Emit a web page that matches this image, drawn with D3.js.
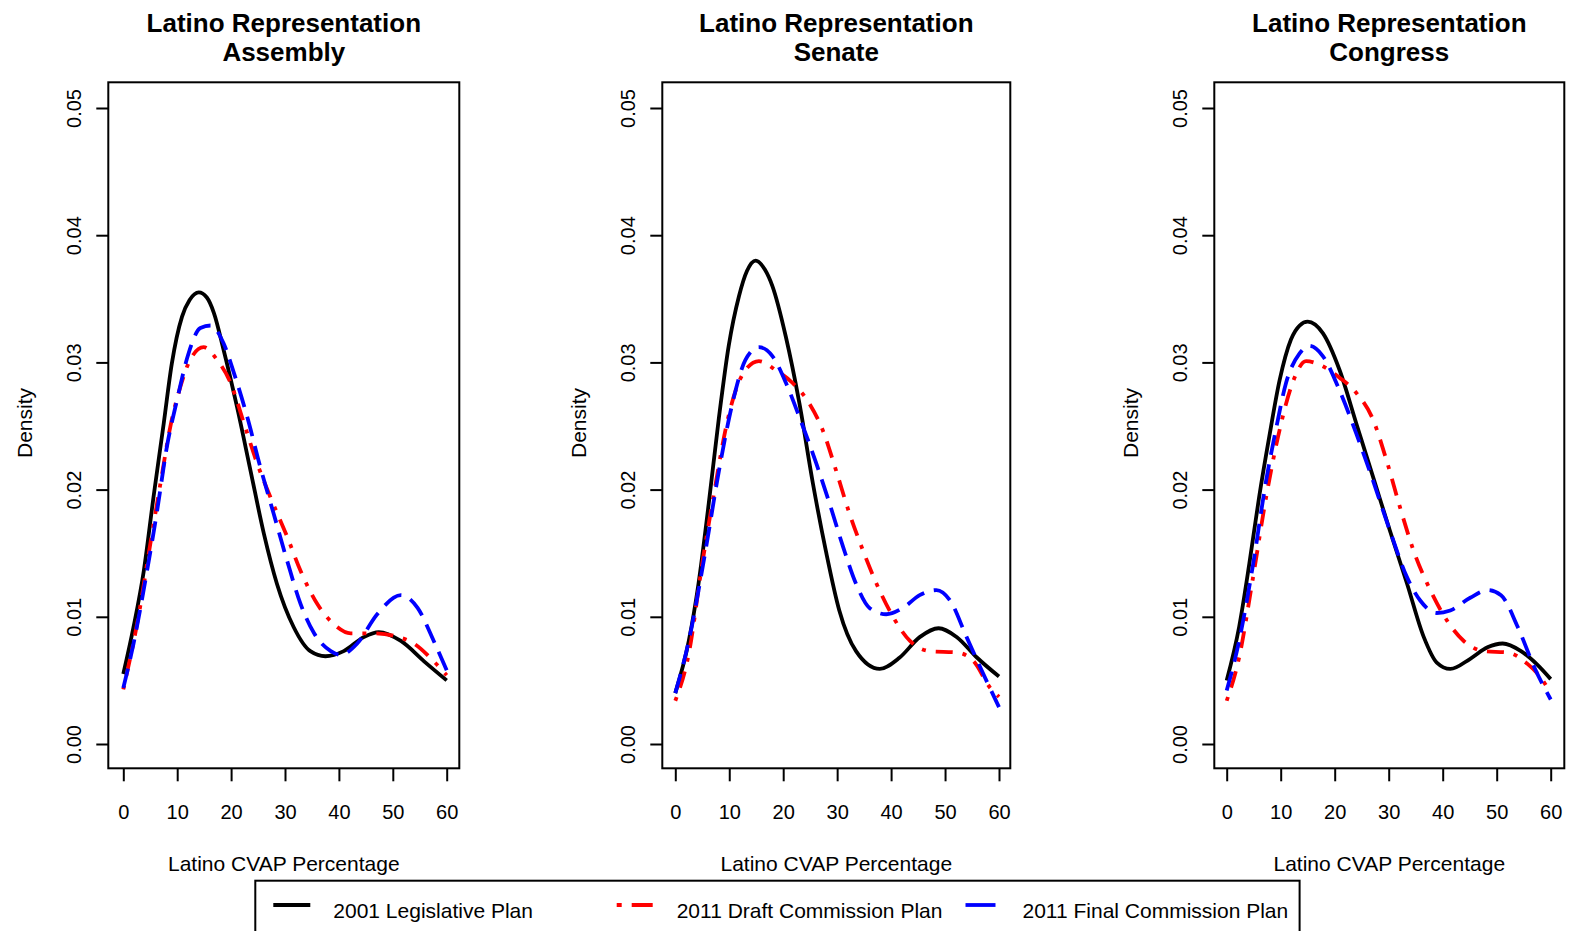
<!DOCTYPE html>
<html>
<head>
<meta charset="utf-8">
<script src="https://cdn.jsdelivr.net/npm/d3@7"></script>
<style>
  html, body { margin: 0; padding: 0; background: #fff; }
  svg { display: block; font-family: "Liberation Sans", Arial, Helvetica, sans-serif; }
</style>
</head>
<body>
<svg id="chart" width="1570" height="931"></svg>
<script>
// ---------------- Data ----------------
const panelTitles = ["Assembly", "Senate", "Congress"];
const seriesNames = ["2001 Legislative Plan", "2011 Draft Commission Plan", "2011 Final Commission Plan"];
const xTicks = [0, 10, 20, 30, 40, 50, 60];
const yTicks = [0, 0.01, 0.02, 0.03, 0.04, 0.05];
const yTickLabels = ["0.00", "0.01", "0.02", "0.03", "0.04", "0.05"];

// Assembly
const assembly2001 = [[0,0.0055],[1.9,0.0092],[3.8,0.0136],[5.6,0.0194],[7.5,0.0252],[9.0,0.0299],[10.9,0.0336],[12.3,0.0349],[14.0,0.0355],[15.5,0.0351],[16.8,0.0339],[18.6,0.0310],[21.1,0.0265],[23.6,0.0215],[26.1,0.0165],[28.5,0.0126],[31.6,0.0092],[34.7,0.0073],[37.5,0.0069],[40.9,0.0073],[44.6,0.0084],[47.4,0.0088],[51.5,0.0081],[55.8,0.0065],[60,0.0050]];
const assemblyDraft = [[0,0.0043],[2.8,0.0100],[5.0,0.0157],[6.9,0.0205],[8.7,0.0249],[10.6,0.0281],[12.4,0.0302],[14.9,0.0312],[17.4,0.0302],[19.9,0.0284],[22.4,0.0252],[24.8,0.0221],[27.3,0.0194],[30.4,0.0163],[32.9,0.0136],[36.0,0.0110],[39.1,0.0094],[42.2,0.0087],[46.5,0.0087],[50.2,0.0085],[53.9,0.0079],[57.6,0.0065],[60,0.0054]];
const assemblyFinal = [[0,0.0044],[1.9,0.0079],[4.4,0.0136],[6.3,0.0184],[8.1,0.0234],[10.0,0.0271],[12.1,0.0307],[14.3,0.0327],[16.2,0.0329],[18.6,0.0315],[20.5,0.0292],[23.0,0.0257],[25.4,0.0218],[27.9,0.0181],[30.4,0.0144],[32.9,0.0110],[35.4,0.0087],[38.5,0.0073],[40.3,0.0070],[43.4,0.0079],[47.1,0.0102],[51.5,0.0117],[54.6,0.0107],[57.6,0.0081],[60,0.0058]];

// Senate
const senate2001 = [[0,0.0040],[2.5,0.0081],[4.3,0.0126],[6.2,0.0189],[8.1,0.0257],[9.9,0.0313],[11.8,0.0352],[13.3,0.0372],[14.9,0.0380],[16.6,0.0373],[18.0,0.0360],[20.5,0.0320],[23.0,0.0268],[25.5,0.0205],[27.9,0.0152],[30.4,0.0105],[33.5,0.0073],[37.9,0.0059],[41.6,0.0068],[45.3,0.0084],[48.8,0.0091],[52.2,0.0084],[55.9,0.0068],[60,0.0053]];
const senateDraft = [[0,0.0034],[2.5,0.0071],[5.0,0.0142],[7.5,0.0205],[9.3,0.0247],[11.2,0.0278],[13.0,0.0294],[15.5,0.0301],[18.6,0.0294],[21.7,0.0284],[24.8,0.0268],[27.3,0.0247],[29.8,0.0215],[32.3,0.0181],[34.8,0.0152],[37.3,0.0126],[39.7,0.0105],[43.5,0.0081],[47.2,0.0073],[52.2,0.0072],[55.3,0.0065],[58.4,0.0044],[60,0.0037]];
const senateFinal = [[0,0.0040],[2.5,0.0081],[5.6,0.0152],[8.1,0.0215],[10.6,0.0268],[13.0,0.0302],[15.5,0.0312],[18.0,0.0305],[20.5,0.0284],[23.0,0.0257],[26.1,0.0221],[28.6,0.0189],[31.1,0.0155],[33.5,0.0126],[36.0,0.0107],[39.1,0.0102],[42.2,0.0107],[45.3,0.0117],[48.4,0.0121],[50.9,0.0113],[54.0,0.0084],[57.1,0.0055],[60,0.0029]];

// Congress
const congress2001 = [[0,0.0050],[2.3,0.0092],[4.2,0.0142],[6.0,0.0194],[7.9,0.0242],[9.8,0.0286],[11.9,0.0318],[13.5,0.0329],[15.0,0.0332],[17.8,0.0323],[20.9,0.0294],[24.0,0.0252],[27.1,0.0210],[30.2,0.0168],[33.4,0.0126],[36.5,0.0084],[38.9,0.0064],[41.4,0.0059],[45.1,0.0067],[48.3,0.0076],[51.1,0.0079],[54.5,0.0073],[57.6,0.0062],[60,0.0051]];
const congressDraft = [[0,0.0034],[2.3,0.0068],[4.8,0.0129],[7.3,0.0194],[9.8,0.0247],[12.2,0.0284],[14.7,0.0301],[17.8,0.0297],[20.9,0.0288],[24.0,0.0276],[27.1,0.0255],[29.6,0.0223],[32.1,0.0186],[34.6,0.0152],[37.7,0.0121],[40.8,0.0097],[43.9,0.0081],[47.6,0.0073],[52.0,0.0072],[55.7,0.0063],[58.2,0.0052],[60,0.0040]];
const congressFinal = [[0,0.0042],[2.3,0.0081],[4.8,0.0139],[7.3,0.0207],[9.1,0.0247],[11.0,0.0284],[13.5,0.0307],[15.3,0.0313],[17.8,0.0305],[20.9,0.0278],[24.0,0.0244],[27.1,0.0207],[30.2,0.0168],[33.4,0.0131],[35.8,0.0113],[38.9,0.0103],[41.4,0.0105],[45.1,0.0115],[48.3,0.0121],[50.8,0.0117],[53.9,0.0092],[57.0,0.0060],[60,0.0035]];

const panelData = [
  [assembly2001, assemblyDraft, assemblyFinal],
  [senate2001, senateDraft, senateFinal],
  [congress2001, congressDraft, congressFinal]
];

// ---------------- Styles / layout ----------------
const seriesColors = ["#000000", "#ff0000", "#0000ff"];
const seriesDash = [null, "4,10,17,10", "20,10"];
const legendDash = [null, "5,10,21,10", "30,10"];
const boxLeft = [108.3, 662.3, 1214.3];
const boxRight = [459.3, 1010.3, 1564.3];
const x0px = [123.3, 675.3, 1226.7];
const x60px = [446.7, 999.0, 1550.7];
const boxTop = 82.3, boxBottom = 768.3;

const svg = d3.select("#chart");

panelTitles.forEach((title, p) => {
  const g = svg.append("g");
  const x = d3.scaleLinear().domain([0, 60]).range([x0px[p], x60px[p]]);
  const y = d3.scaleLinear().domain([0, 0.05]).range([744, 108]);
  const cx = (boxLeft[p] + boxRight[p]) / 2;

  // curves
  const line = d3.line()
    .x(d => x(d[0]))
    .y(d => y(d[1]))
    .curve(d3.curveMonotoneX);

  panelData[p].forEach((series, s) => {
    g.append("path")
      .attr("d", line(series))
      .attr("fill", "none")
      .attr("stroke", seriesColors[s])
      .attr("stroke-width", 3.8)
      .attr("stroke-linecap", "butt")
      .attr("stroke-linejoin", "round")
      .attr("stroke-dasharray", seriesDash[s]);
  });

  // box
  g.append("rect")
    .attr("x", boxLeft[p]).attr("y", boxTop)
    .attr("width", boxRight[p] - boxLeft[p]).attr("height", boxBottom - boxTop)
    .attr("fill", "none").attr("stroke", "#000").attr("stroke-width", 2);

  // x axis
  const xAxis = d3.axisBottom(x).tickValues(xTicks).tickSize(13).tickPadding(24).tickSizeOuter(0);
  const gx = g.append("g").attr("transform", `translate(0,${boxBottom})`).call(xAxis);
  gx.select(".domain").remove();
  gx.selectAll(".tick line").attr("stroke", "#000").attr("stroke-width", 2);
  gx.selectAll(".tick text")
    .attr("font-size", 20).attr("fill", "#000")
    .attr("font-family", "Liberation Sans, Arial, sans-serif");

  // y axis
  const yAxis = d3.axisLeft(y).tickValues(yTicks).tickFormat((d, i) => yTickLabels[i]).tickSize(12).tickSizeOuter(0);
  const gy = g.append("g").attr("transform", `translate(${boxLeft[p]},0)`).call(yAxis);
  gy.select(".domain").remove();
  gy.selectAll(".tick line").attr("stroke", "#000").attr("stroke-width", 2);
  gy.selectAll(".tick text")
    .attr("font-size", 20).attr("fill", "#000")
    .attr("font-family", "Liberation Sans, Arial, sans-serif")
    .attr("x", null).attr("dy", null)
    .attr("text-anchor", "middle")
    .attr("transform", "translate(-27,0) rotate(-90)");

  // titles
  g.append("text").attr("x", cx).attr("y", 32).attr("text-anchor", "middle")
    .attr("font-weight", "bold").attr("font-size", 26).text("Latino Representation");
  g.append("text").attr("x", cx).attr("y", 61).attr("text-anchor", "middle")
    .attr("font-weight", "bold").attr("font-size", 26).text(title);

  // axis titles
  g.append("text").attr("x", cx).attr("y", 871).attr("text-anchor", "middle")
    .attr("font-size", 21).text("Latino CVAP Percentage");
  g.append("text")
    .attr("transform", `translate(${boxLeft[p] - 76},423) rotate(-90)`)
    .attr("text-anchor", "middle").attr("font-size", 21).text("Density");
});

// legend
const legendG = svg.append("g");
legendG.append("rect")
  .attr("x", 255.3).attr("y", 880.7).attr("width", 1299.6 - 255.3).attr("height", 70)
  .attr("fill", "#fff").attr("stroke", "#000").attr("stroke-width", 2);
const legendLineX = [273.3, 616.7, 965.5];
const legendTextX = [333.3, 676.7, 1022.5];
seriesNames.forEach((name, s) => {
  legendG.append("line")
    .attr("x1", legendLineX[s]).attr("x2", legendLineX[s] + 37)
    .attr("y1", 905).attr("y2", 905)
    .attr("stroke", seriesColors[s]).attr("stroke-width", 3.8)
    .attr("stroke-dasharray", legendDash[s]);
  legendG.append("text").attr("x", legendTextX[s]).attr("y", 917.5)
    .attr("font-size", 21).text(name);
});
</script>
</body>
</html>
